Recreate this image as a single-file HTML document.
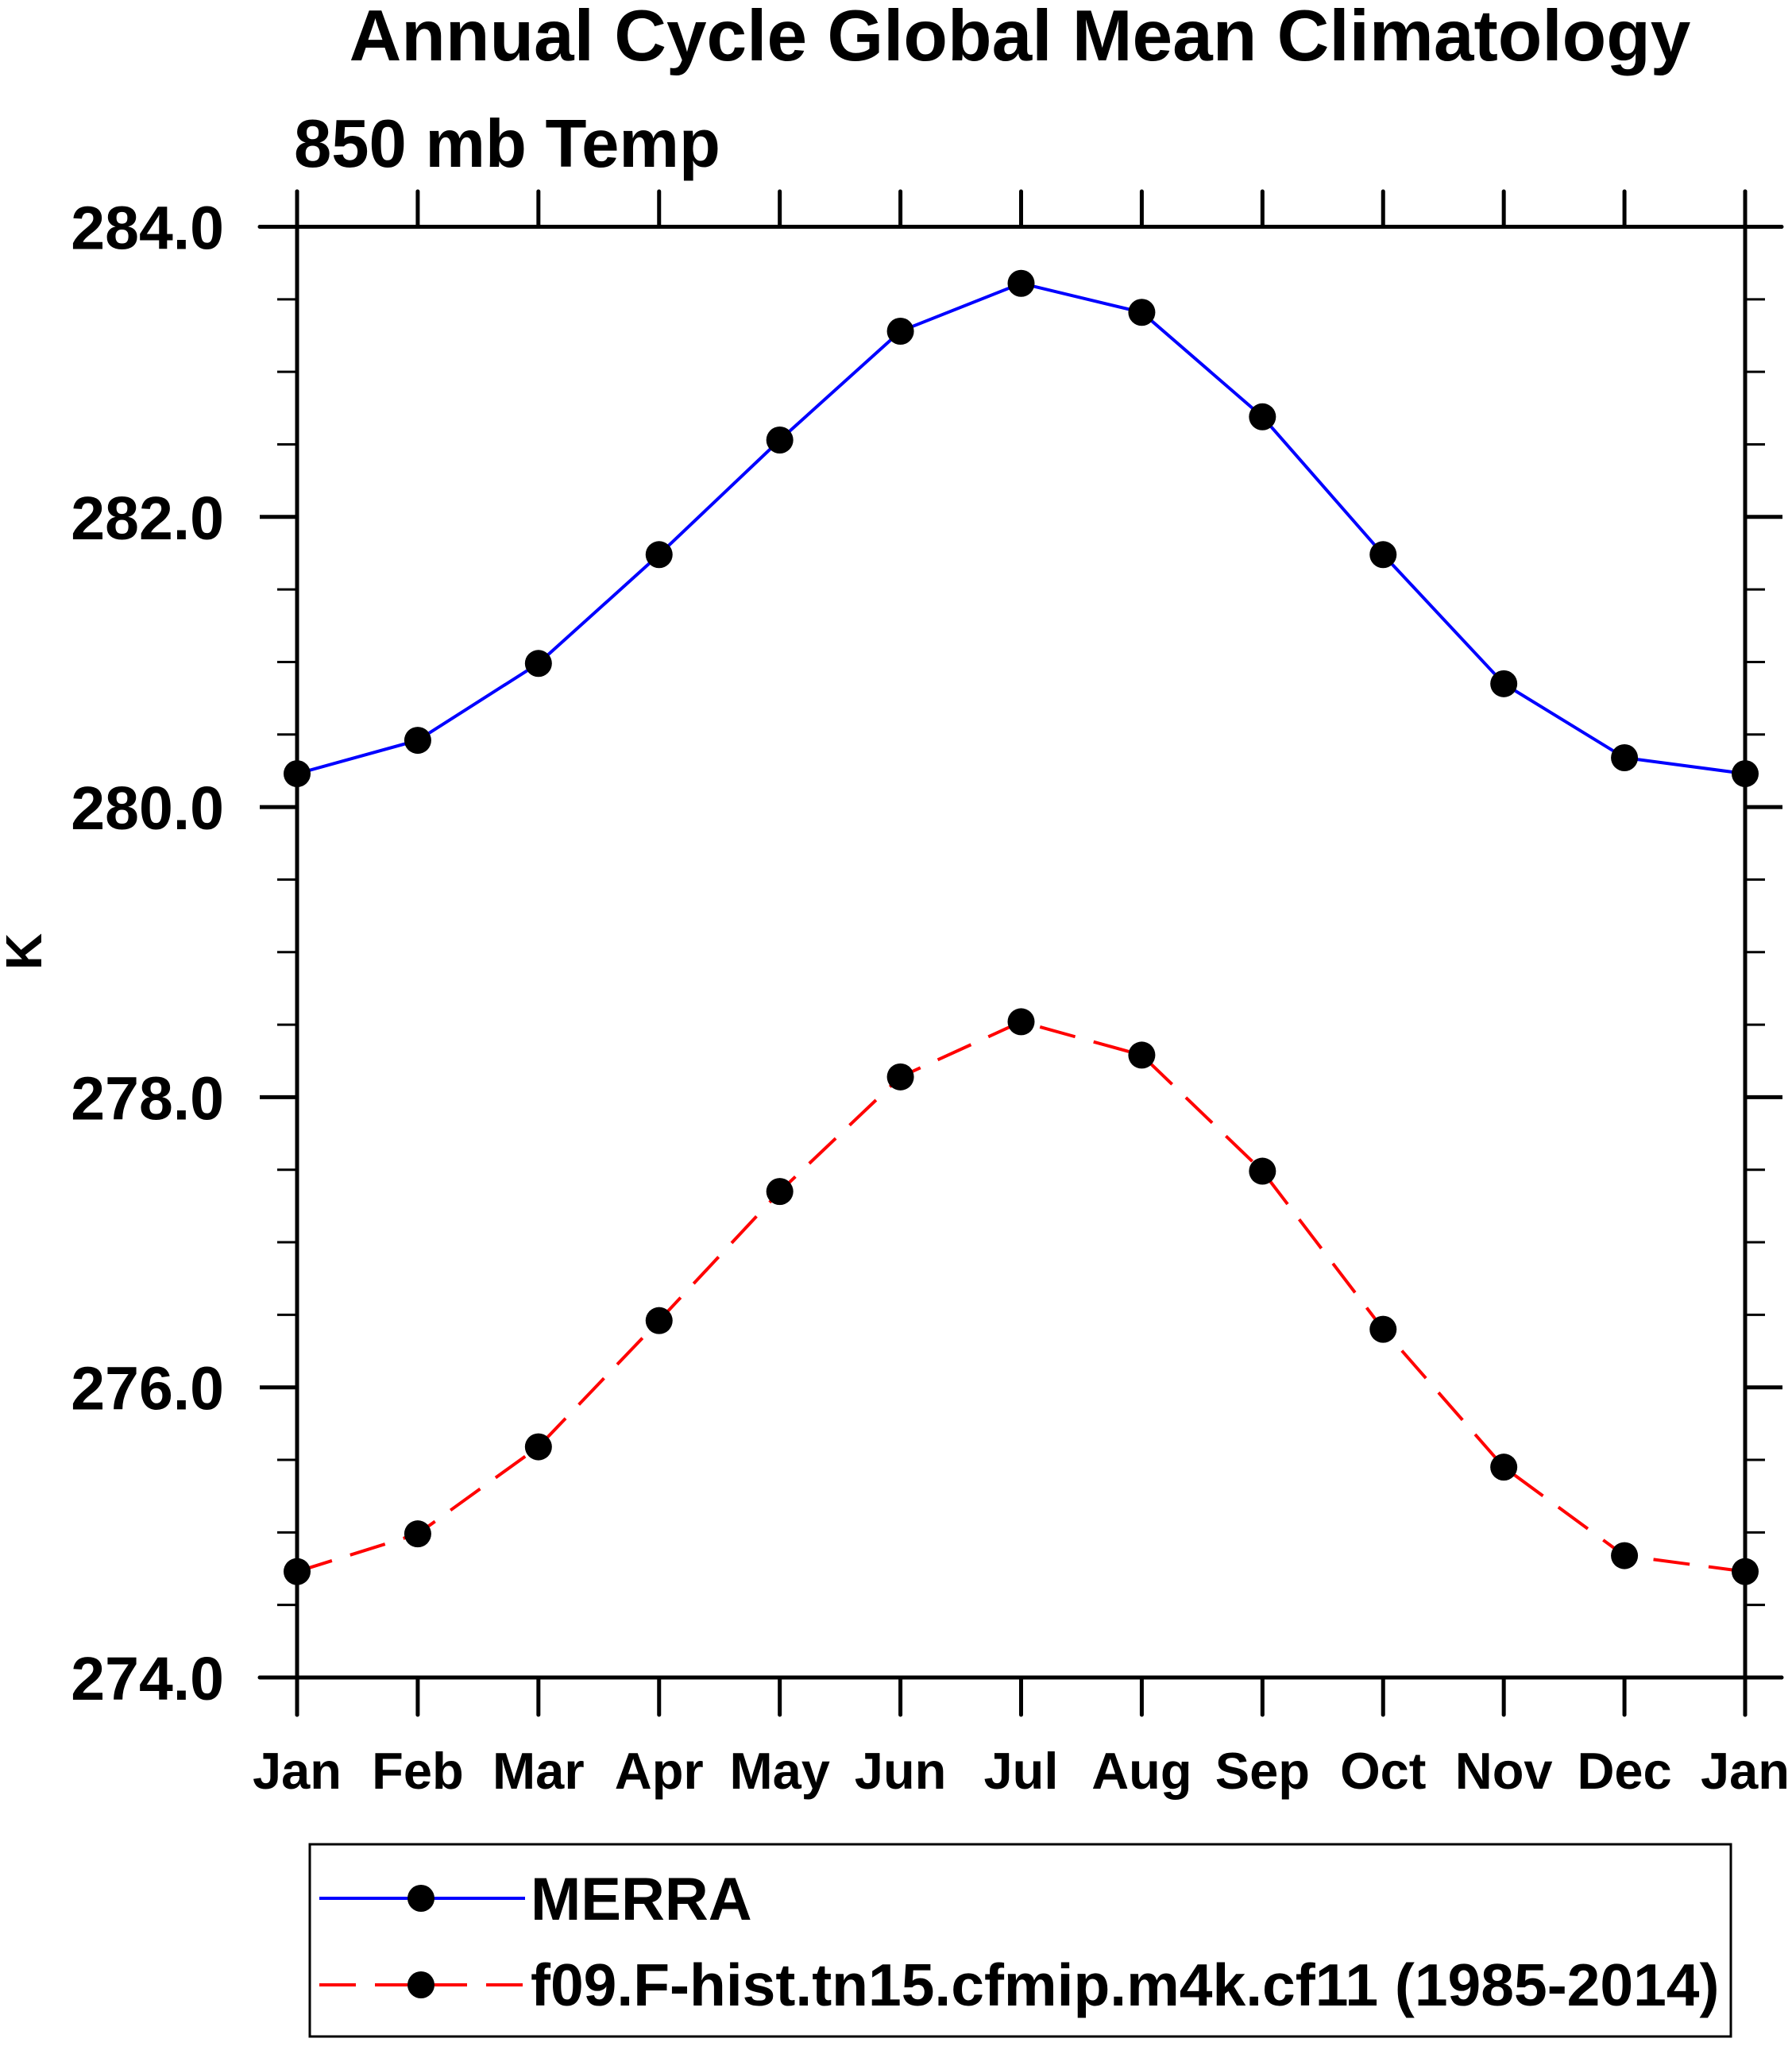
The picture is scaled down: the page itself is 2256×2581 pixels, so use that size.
<!DOCTYPE html>
<html><head><meta charset="utf-8"><style>
html,body{margin:0;padding:0;background:#fff;}
svg text{font-family:"Liberation Sans",sans-serif;font-weight:bold;fill:#000;}
</style></head><body>
<svg id="chart" width="2256" height="2576" xmlns="http://www.w3.org/2000/svg">
<text x="1284" y="76" font-size="91" text-anchor="middle">Annual Cycle Global Mean Climatology</text>
<text x="370" y="210" font-size="85">850 mb Temp</text>
<text transform="translate(52,1198) rotate(-90)" font-size="64" text-anchor="middle">K</text>
<g id="axes"></g>
<g id="series"></g>
<rect x="390" y="2322" width="1789" height="242" fill="none" stroke="#000" stroke-width="3"/>
<g>
<line x1="402" y1="2390" x2="661" y2="2390" stroke="#0000ff" stroke-width="4"/>
<circle cx="530" cy="2390" r="17" fill="#000"/>
<text x="668" y="2417" font-size="76">MERRA</text>
</g>
<g>
<line x1="402" y1="2499" x2="661" y2="2499" stroke="#ff0000" stroke-width="4" stroke-dasharray="46,24"/>
<circle cx="530" cy="2499" r="17" fill="#000"/>
<text x="668" y="2525" font-size="75">f09.F-hist.tn15.cfmip.m4k.cf11 (1985-2014)</text>
</g>
</svg>
<script>
const months = ["Jan","Feb","Mar","Apr","May","Jun","Jul","Aug","Sep","Oct","Nov","Dec","Jan"];
const merra = [280.23,280.46,280.99,281.74,282.53,283.28,283.61,283.41,282.69,281.74,280.85,280.34,280.23];
const model = [274.73,274.99,275.59,276.46,277.35,278.14,278.52,278.29,277.49,276.40,275.45,274.84,274.73];
const yTicks = [274,276,278,280,282,284];
const yTickLabels = ["274.0","276.0","278.0","280.0","282.0","284.0"];

const NS="http://www.w3.org/2000/svg";
const L=374,R=2197,T=285.5,B=2112,ymin=274,ymax=284;
const xs=i=>L+(R-L)*i/(months.length-1);
const ys=v=>B-(v-ymin)/(ymax-ymin)*(B-T);
function mk(tag,attrs,parent){const e=document.createElementNS(NS,tag);for(const k in attrs)e.setAttribute(k,attrs[k]);parent.appendChild(e);return e;}
const axes=document.getElementById('axes');
const st={stroke:"#000","stroke-width":5,"stroke-linecap":"round"};
let e;
e=mk('line',Object.assign({x1:327,y1:T,x2:2243,y2:T},st),axes);


e=mk('line',Object.assign({x1:327,y1:B,x2:2243,y2:B},st),axes);


e=mk('line',Object.assign({x1:L,y1:241,x2:L,y2:2159},st),axes);


e=mk('line',Object.assign({x1:R,y1:241,x2:R,y2:2159},st),axes);


months.forEach((m,i)=>{
  const x=xs(i);
  mk('line',Object.assign({x1:x,y1:B,x2:x,y2:2159},st),axes);
  mk('line',Object.assign({x1:x,y1:T,x2:x,y2:241},st),axes);
  const t=mk('text',{x:x,y:2252,"font-size":65,"text-anchor":"middle"},axes);
  t.textContent=m;
  
  
});
for(let v=ymin;v<=ymax+1e-6;v+=0.5){
  const y=ys(v);const major=Math.abs(v%2)<1e-6;
  const len=major?47:25;
  mk('line',{x1:L-len,y1:y,x2:L,y2:y,stroke:"#000","stroke-width":major?5:3},axes);
  mk('line',{x1:R,y1:y,x2:R+len,y2:y,stroke:"#000","stroke-width":major?5:3},axes);
}
yTicks.forEach((v,i)=>{
  const t=mk('text',{x:282,y:ys(v)+28,"font-size":77,"text-anchor":"end"},axes);
  t.textContent=yTickLabels[i];
  
  
});
const ser=document.getElementById('series');
function draw(data,color,dash,name){
  const pts=data.map((v,i)=>xs(i)+","+ys(v)).join(" ");
  const pl=mk('polyline',{points:pts,fill:"none",stroke:color,"stroke-width":4},ser);
  if(dash)pl.setAttribute('stroke-dasharray',dash);
  
  
  data.forEach((v,i)=>{
    const c=mk('circle',{cx:xs(i),cy:ys(v),r:17,fill:"#000"},ser);
    
    
  });
}
draw(merra,"#0000ff",null,"merra");
draw(model,"#ff0000","46,24","model");
</script>
</body></html>
